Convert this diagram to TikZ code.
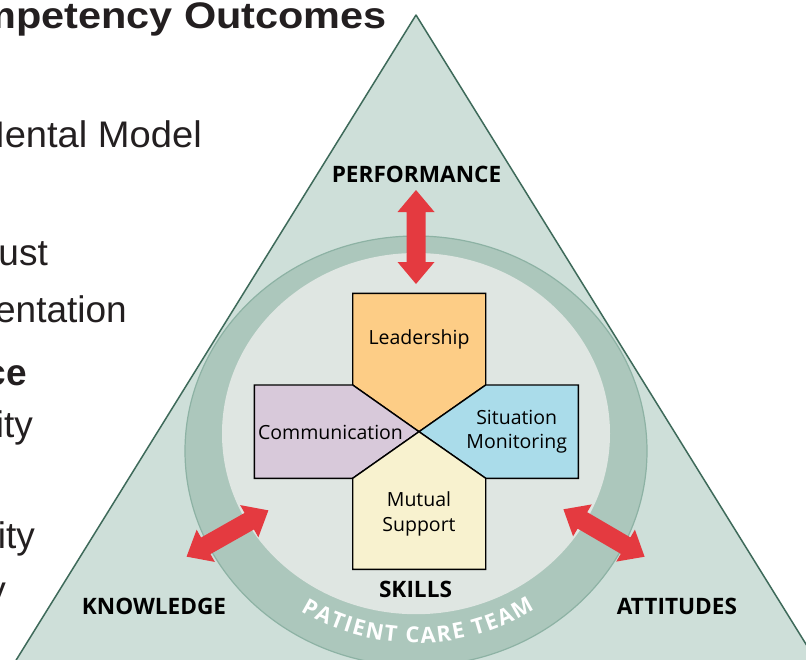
\documentclass[tikz,border=0pt]{standalone}
\usepackage{fontspec}
\setmainfont{Liberation Sans}
\newfontfamily\diag{Open Sans}
\newfontfamily\titlefont[FakeStretch=1.12]{Liberation Sans}
\newfontfamily\widebody[FakeStretch=1.03]{Liberation Sans}
\usetikzlibrary{decorations.text}
\definecolor{trifill}{HTML}{CEDFD9}
\definecolor{tristroke}{HTML}{3E6A5A}
\definecolor{ringfill}{HTML}{ACC7BC}
\definecolor{ringedge}{HTML}{8DB2A4}
\definecolor{innerfill}{HTML}{DFE6E2}
\definecolor{arrowred}{HTML}{E43A40}
\definecolor{leadfill}{HTML}{FDCD86}
\definecolor{commfill}{HTML}{D8C9DA}
\definecolor{sitfill}{HTML}{AADCEA}
\definecolor{mutfill}{HTML}{F8F2CF}
\definecolor{slidetext}{HTML}{231F20}
\newcommand\ringfont{\diag\bfseries\fontsize{22}{24}\selectfont}
\tikzset{
  slide/.style={text=slidetext, inner sep=0pt, anchor=base east, font=\fontsize{37}{40}\selectfont},
  slidebold/.style={slide, font=\bfseries\fontsize{37}{40}\selectfont},
  slidewide/.style={slide, font=\widebody\fontsize{37}{40}\selectfont},
  titlestyle/.style={slide, font=\titlefont\bfseries\fontsize{37}{40}\selectfont},
  lbl/.style={inner sep=0pt, anchor=base, text=black, font=\diag\bfseries\fontsize{22.6}{24}\selectfont},
  boxtxt/.style={inner sep=0pt, anchor=base, text=black, font=\diag\fontsize{19.5}{24}\selectfont},
  armbox/.style={draw=black, line width=1.4pt, line join=miter},
  dblarr/.pic={\fill[arrowred] (-47,0) -- (-25,18.5) -- (-25,9.5) -- (25,9.5) -- (25,18.5) -- (47,0) -- (25,-18.5) -- (25,-9.5) -- (-25,-9.5) -- (-25,-18.5) -- cycle;}
}
\begin{document}
\begin{tikzpicture}[x=1pt,y=-1pt]
\useasboundingbox (0,0) rectangle (806,659);
\clip (0,0) rectangle (806,659);
\fill[white] (0,0) rectangle (806,659);
% slide text (clipped at the left edge)
\node[titlestyle] (title) at (387,28) {Competency Outcomes};
\node[slidewide] (t1) at (202,147) {Mental Model};
\node[slide] (t2) at (48,265) {ust};
\node[slide] (t3) at (127,322) {entation};
\node[slidebold] (t4) at (27,385) {ce};
\node[slide] (t5) at (33,437) {ity};
\node[slide] (t6) at (35,548) {ity};
\node[slide] (t7) at (6,602) {y};
% triangle
\draw[tristroke, fill=trifill, line width=1.5pt, line join=round] (416,15) -- (853,720) -- (-21,720) -- cycle;
% ring
\fill[ringfill] (416,451) ellipse [x radius=231, y radius=215];
\draw[ringedge, line width=1.2pt] (416,451) ellipse [x radius=231, y radius=215];
\fill[innerfill] (416,433.6) ellipse [x radius=194, y radius=180.6];
% ring text
\path[decorate, decoration={text along path, text={|\ringfont|PATIENT CARE TEAM}, text color=white, text align={fit to path}}]
  (416,446) ++(123:212 and 197) arc[start angle=123, end angle=56, x radius=212, y radius=197];
% arrows
\pic[rotate=90] at (416,237) {dblarr};
\pic[rotate=29.5] at (227.5,533.5) {dblarr};
\pic[rotate=-30.3] at (604,533) {dblarr};
% cross
\coordinate (c) at (419,431.7);
\draw[armbox, fill=leadfill] (352.7,293.3) -- (485.7,293.3) -- (485.7,385) -- (c) -- (352.7,385) -- cycle;
\draw[armbox, fill=commfill] (254.3,385) -- (352.7,385) -- (c) -- (352.7,478.3) -- (254.3,478.3) -- cycle;
\draw[armbox, fill=sitfill] (578.3,385) -- (485.7,385) -- (c) -- (485.7,478.3) -- (578.3,478.3) -- cycle;
\draw[armbox, fill=mutfill] (352.7,569.3) -- (352.7,478.3) -- (c) -- (485.7,478.3) -- (485.7,569.3) -- cycle;
\node[boxtxt] (lead) at (419,344.3) {Leadership};
\node[boxtxt] (comm) at (330.5,439.3) {Communication};
\node[boxtxt] (sit1) at (516.7,424) {Situation};
\node[boxtxt] (sit2) at (516.7,448) {Monitoring};
\node[boxtxt] (mut1) at (419,506.7) {Mutual};
\node[boxtxt] (mut2) at (419,531.7) {Support};
% labels
\node[lbl] (perf) at (416.5,182) {PERFORMANCE};
\node[lbl] (know) at (154,614) {KNOWLEDGE};
\node[lbl] (att) at (677,614) {ATTITUDES};
\node[lbl] (skills) at (415.5,597) {SKILLS};
\end{tikzpicture}
\end{document}
